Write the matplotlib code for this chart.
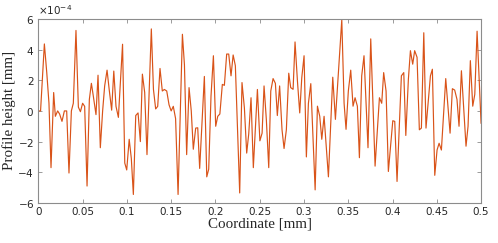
import matplotlib
matplotlib.use("Agg")
import matplotlib.pyplot as plt
from matplotlib.ticker import ScalarFormatter
import numpy as np

# profile vertices (x in mm, height in 1e-4 mm)
coord = [0.000, 0.0025, 0.0068, 0.0095, 0.012, 0.0143, 0.0173, 0.0192, 0.0218, 0.024,
         0.0267, 0.0294, 0.032, 0.0346, 0.0373, 0.0395, 0.0425, 0.0452, 0.0475, 0.050,
         0.0523, 0.055, 0.0576, 0.0599, 0.062, 0.0651, 0.0674, 0.070, 0.0726, 0.0749,
         0.0776, 0.080, 0.0828, 0.0852, 0.0877, 0.0904, 0.0951, 0.0976, 0.0998, 0.1026,
         0.105, 0.1073, 0.110, 0.1126, 0.1152, 0.1175, 0.1201, 0.1227, 0.1276, 0.130,
         0.1325, 0.1348, 0.1374, 0.140, 0.1423, 0.145, 0.1476, 0.150, 0.1524, 0.155,
         0.1578, 0.1627, 0.165, 0.1675, 0.1702, 0.1727, 0.175, 0.1777, 0.180, 0.1822,
         0.1875, 0.1902, 0.1924, 0.195, 0.1977, 0.2003, 0.2026, 0.205, 0.2078, 0.2101,
         0.2127, 0.215, 0.2176, 0.220, 0.2225, 0.2274, 0.230, 0.2327, 0.2353, 0.2376,
         0.2402, 0.2428, 0.2474, 0.2502, 0.2527, 0.2549, 0.2575, 0.2602, 0.2625, 0.2651,
         0.2677, 0.2699, 0.2725, 0.2752, 0.2775, 0.2801, 0.2828, 0.285, 0.2877, 0.2899,
         0.2926, 0.2952, 0.2975, 0.3001, 0.3027, 0.305, 0.3077, 0.3103, 0.3126, 0.3152,
         0.3178, 0.3201, 0.3227, 0.3276, 0.3325, 0.3355, 0.3427, 0.3453, 0.3475, 0.3501,
         0.3528, 0.3554, 0.3577, 0.3603, 0.3626, 0.3652, 0.3678, 0.3723, 0.3754, 0.3803,
         0.3852, 0.3878, 0.390, 0.3927, 0.3953, 0.4003, 0.4025, 0.4051, 0.410, 0.4127,
         0.415, 0.4179, 0.4202, 0.4228, 0.425, 0.4277, 0.4303, 0.4326, 0.4353, 0.4378,
         0.4428, 0.445, 0.4477, 0.4503, 0.4526, 0.4552, 0.4601, 0.465, 0.4676, 0.4702,
         0.4728, 0.4751, 0.4778, 0.483, 0.4853, 0.4879, 0.4906, 0.4929, 0.4955, 0.500]

height = [0.0, 0.0, 4.37, 2.5, 0.5, -3.7, 1.2, -0.35, 0.0, -0.2,
          -0.68, 0.0, 0.0, -4.05, 0.0, 0.5, 5.25, 0.25, -0.05, 0.5,
          0.3, -4.9, 0.75, 1.8, 1.0, -0.24, 2.33, -2.4, 0.0, 1.63,
          2.66, 1.4, 0.05, 2.6, 0.3, -0.42, 4.35, -3.4, -3.85, -1.85,
          -3.1, -5.45, -0.3, -0.13, -2.0, 2.4, 1.2, -2.85, 5.35, 1.4,
          0.13, 0.3, 2.77, 1.3, 1.4, 1.3, 0.4, 0.0, 0.3, -0.5,
          -5.45, 5.0, 3.0, -2.85, 1.52, 0.0, -2.5, -1.12, -1.1, -3.75,
          2.25, -4.3, -3.8, 0.97, 3.6, -1.0, -0.35, -0.2, 1.73, 1.67,
          3.71, 3.71, 2.29, 3.65, 2.95, -5.35, 1.85, 0.2, -2.75, -1.5,
          0.86, -3.7, 1.4, -1.95, -1.45, 1.63, -0.57, -3.7, 1.3, 2.11,
          1.8, -0.3, 1.63, -1.23, -2.45, -1.23, 2.46, 1.52, 1.41, 4.5,
          1.96, -0.13, 2.16, 3.6, -3.0, 0.5, 1.78, -1.9, -5.15, 0.31,
          -0.35, -1.85, -0.35, -4.3, 2.2, -0.55, 5.95, 0.5, -1.2, 1.3,
          2.66, 0.31, 0.86, 0.31, -3.05, 2.29, 3.6, -2.4, 4.7, -3.6,
          0.86, 0.5, 2.5, 1.3, -3.95, -0.64, -0.68, -4.6, 2.29, 2.5,
          -1.6, 2.06, 3.93, 3.05, 3.93, 3.5, -1.23, -1.12, 5.1, -1.12,
          2.29, 2.72, -4.2, -2.55, -2.11, -2.55, 2.11, -1.45, 1.45, 1.36,
          0.75, -1.0, 2.62, -2.3, -1.0, 3.28, 0.31, 1.08, 5.2, -0.8]

x = np.array(coord)
y = np.array(height) * 1e-4

fig = plt.figure(figsize=(4.98, 2.43), dpi=100)
ax = fig.add_axes([0.077, 0.165, 0.889, 0.757])

ax.plot(x, y, color='#D95319', linewidth=0.85)

ax.set_xlim(0, 0.5)
ax.set_ylim(-6e-4, 6e-4)
ax.set_xticks(np.arange(0, 0.51, 0.05))
ax.set_xticklabels(['0', '0.05', '0.1', '0.15', '0.2', '0.25', '0.3', '0.35',
                    '0.4', '0.45', '0.5'])
ax.set_yticks(np.arange(-6e-4, 6.1e-4, 2e-4))

fmt = ScalarFormatter(useMathText=True)
fmt.set_powerlimits((-3, 3))
ax.yaxis.set_major_formatter(fmt)
ax.yaxis.get_offset_text().set_fontsize(7.5)
ax.yaxis.get_offset_text().set_color('#262626')

for s in ax.spines.values():
    s.set_color('#8c8c8c')
    s.set_linewidth(0.8)
ax.tick_params(direction='in', top=True, right=True, length=3, width=0.6,
               color='#8c8c8c', labelsize=7.5, labelcolor='#262626', pad=3)

ax.set_xlabel('Coordinate [mm]', family='Liberation Serif', fontsize=10.8,
              color='#262626', labelpad=0)
ax.set_ylabel('Profile height [mm]', family='Liberation Serif', fontsize=10.8,
              color='#262626', labelpad=1)

fig.savefig('out.png', dpi=100)
